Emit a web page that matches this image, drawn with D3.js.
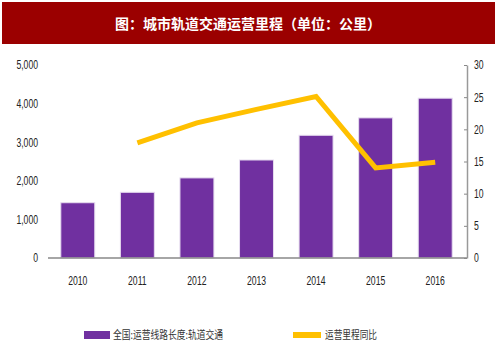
<!DOCTYPE html>
<html><head><meta charset="utf-8">
<script src="https://cdn.jsdelivr.net/npm/d3@7"></script>
<style>body{margin:0;background:#fff}svg{display:block}</style>
</head><body>
<script>
const years = ["2010","2011","2012","2013","2014","2015","2016"];
const mileage = [1432, 1702, 2075, 2539, 3179, 3630, 4140];
const growth = [null, 17.9, 21.0, 23.1, 25.1, 14.0, 14.9];
const leftTicks = [0,1000,2000,3000,4000,5000];
const rightTicks = [0,5,10,15,20,25,30];
const title = "图：城市轨道交通运营里程（单位：公里）";
const seriesNames = ["全国:运营线路长度:轨道交通","运营里程同比"];

const W=495,H=359;
const svg=d3.select("body").append("svg").attr("width",W).attr("height",H);
svg.append("rect").attr("width",W).attr("height",H).attr("fill","#fff");
svg.append("rect").attr("x",2).attr("y",2).attr("width",493).attr("height",42).attr("fill","#9b0000");
svg.append("text").attr("x",248).attr("y",29).attr("text-anchor","middle")
  .attr("fill","#fff").attr("font-family","'Noto Sans CJK SC'").attr("font-weight","bold")
  .attr("font-size",14).text(title);

const x=d3.scaleBand().domain(years).range([48,465]).paddingInner(0.43).paddingOuter(0.215);
const yL=d3.scaleLinear().domain([0,5000]).range([258,65]);
const yR=d3.scaleLinear().domain([0,30]).range([258,65]);
const font="'Liberation Sans',Arial,sans-serif";

function narrow(sel){
  sel.each(function(){
    const len=this.getComputedTextLength();
    d3.select(this).attr("textLength",len*0.72).attr("lengthAdjust","spacingAndGlyphs");
  });
}

svg.append("g").selectAll("rect").data(mileage).join("rect")
  .attr("x",(d,i)=>x(years[i])).attr("width",x.bandwidth())
  .attr("y",d=>yL(d)).attr("height",d=>258-yL(d))
  .attr("fill","#7030a0").attr("stroke","#e6dcef").attr("stroke-width",1);

// left axis
const gl=svg.append("g").attr("transform","translate(48,0)")
  .call(d3.axisLeft(yL).tickValues(leftTicks).tickFormat(d3.format(",")).tickSize(0).tickPadding(10));
gl.select(".domain").remove();
gl.selectAll("text").attr("font-family",font).attr("font-size",12).attr("fill","#222").call(narrow);

// baseline
svg.append("line").attr("x1",48).attr("x2",467).attr("y1",258).attr("y2",258).attr("stroke","#888").attr("stroke-width",1.5);

// right axis
const gr=svg.append("g").attr("transform","translate(467,0)")
  .call(d3.axisRight(yR).tickValues(rightTicks).tickSizeInner(-3).tickSizeOuter(0).tickPadding(7));
gr.select(".domain").attr("stroke","#999").attr("stroke-width",1.5);
gr.selectAll(".tick line").attr("stroke","#888");
gr.selectAll("text").attr("font-family",font).attr("font-size",12).attr("fill","#222").call(narrow);

// x labels
svg.append("g").selectAll("text").data(years).join("text")
  .attr("x",d=>x(d)+x.bandwidth()/2).attr("y",285).attr("text-anchor","middle")
  .attr("font-family",font).attr("font-size",12).attr("fill","#222").text(d=>d).call(narrow);

// line
const pts=growth.map((v,i)=>[years[i],v]).filter(p=>p[1]!=null);
svg.append("path").datum(pts)
  .attr("d",d3.line().x(p=>x(p[0])+x.bandwidth()/2).y(p=>yR(p[1])))
  .attr("fill","none").attr("stroke","#ffc000").attr("stroke-width",5).attr("stroke-linejoin","miter");

// legend
svg.append("rect").attr("x",84).attr("y",331).attr("width",26).attr("height",8).attr("fill","#7030a0");
svg.append("text").attr("x",113).attr("y",339).attr("font-family","'Noto Sans CJK SC'").attr("font-size",11)
  .attr("fill","#333").attr("textLength",110).attr("lengthAdjust","spacingAndGlyphs").text(seriesNames[0]);
svg.append("line").attr("x1",293).attr("x2",321).attr("y1",335).attr("y2",335).attr("stroke","#ffc000").attr("stroke-width",6);
svg.append("text").attr("x",325).attr("y",339).attr("font-family","'Noto Sans CJK SC'").attr("font-size",11)
  .attr("fill","#333").attr("textLength",52).attr("lengthAdjust","spacingAndGlyphs").text(seriesNames[1]);
</script>
</body></html>
